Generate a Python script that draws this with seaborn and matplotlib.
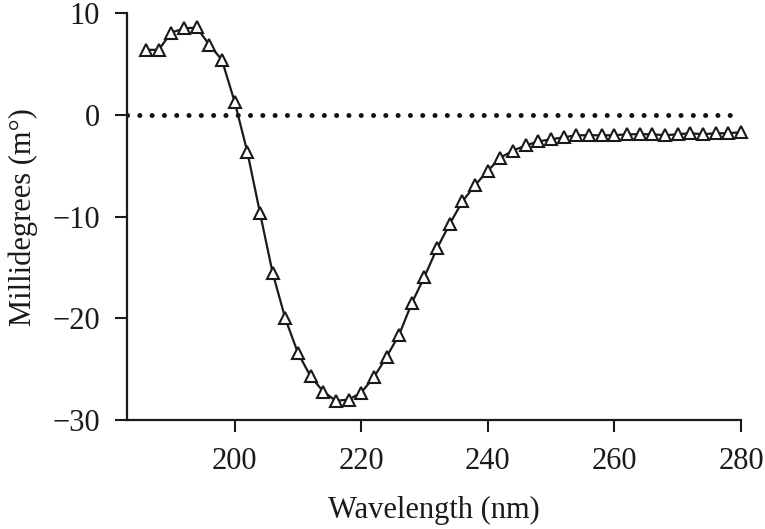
import matplotlib
matplotlib.use("Agg")
import matplotlib.pyplot as plt
import seaborn as sns
import pandas as pd
import numpy as np

wavelength = list(range(186, 282, 2))
millidegrees = [6.4, 6.4, 8.1, 8.5, 8.6, 6.9, 5.4, 1.3, -3.6, -9.6,
                -15.5, -20.0, -23.4, -25.7, -27.2, -28.1, -28.0, -27.3, -25.8, -23.8,
                -21.6, -18.5, -15.9, -13.1, -10.7, -8.5, -6.9, -5.5, -4.2, -3.5,
                -3.0, -2.6, -2.4, -2.2, -2.0, -2.0, -2.0, -2.0, -1.9, -1.9,
                -1.9, -2.0, -1.9, -1.8, -1.9, -1.8, -1.8, -1.7]
xticks = [200, 220, 240, 260, 280]
yticks = [10, 0, -10, -20, -30]
ytick_labels = ["10", "0", "\u221210", "\u221220", "\u221230"]

df = pd.DataFrame({"Wavelength": wavelength, "Millidegrees": millidegrees})

sns.set_theme(style="ticks")
plt.rcParams["font.family"] = ["Liberation Serif", "DejaVu Serif"]

fig = plt.figure(figsize=(7.65, 5.29), dpi=100)
ax = fig.add_axes([0.166, 0.206, 0.8026, 0.769])

ax.axhline(0, color="#111111", linewidth=3.6, linestyle=(0, (0.01, 2.45)),
           dash_capstyle="round", zorder=1)

sns.lineplot(data=df, x="Wavelength", y="Millidegrees", ax=ax, color="#1a1a1a",
             linewidth=1.6, marker="^", markersize=9, markerfacecolor="white",
             markeredgecolor="#1a1a1a", markeredgewidth=1.5, zorder=3,
             clip_on=False)

ax.set_xlim(183, 280)
ax.set_ylim(-30, 10)
ax.set_xticks(xticks)
ax.set_xticklabels([str(t) for t in xticks])
ax.set_yticks(yticks)
ax.set_yticklabels(ytick_labels)

for s in ["top", "right"]:
    ax.spines[s].set_visible(False)
for s in ["left", "bottom"]:
    ax.spines[s].set_linewidth(1.6)
    ax.spines[s].set_color("#1a1a1a")

ax.tick_params(axis="both", direction="out", length=8.5, width=1.5,
               color="#1a1a1a", labelsize=22, labelcolor="#1a1a1a")
ax.tick_params(axis="y", pad=11)
ax.tick_params(axis="x", pad=11)

ax.set_xlabel("Wavelength (nm)", fontsize=22, color="#1a1a1a", labelpad=14)
ax.set_ylabel("Millidegrees (m\u00b0)", fontsize=22, color="#1a1a1a", labelpad=10)
ax.grid(False)

fig.savefig("out.png", dpi=100)
